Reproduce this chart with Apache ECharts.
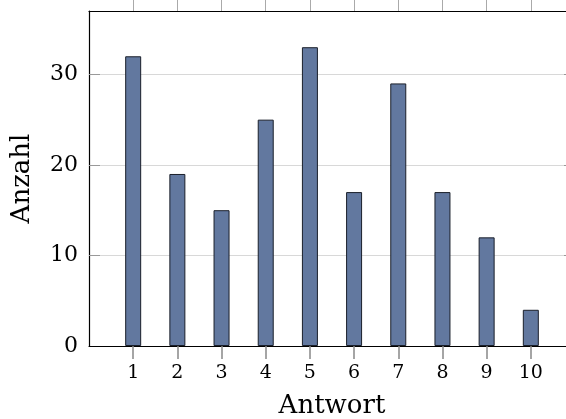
<!DOCTYPE html>
<html>
<head>
<meta charset="utf-8">
<script src="https://cdn.jsdelivr.net/npm/echarts@6/dist/echarts.min.js"></script>
<style>html,body{margin:0;padding:0;background:#fff}#c{width:566px;height:419px}</style>
</head>
<body>
<div id="c"></div>
<script>
const categories = [1, 2, 3, 4, 5, 6, 7, 8, 9, 10];
const counts = [32, 19, 15, 25, 33, 17, 29, 17, 12, 4];
const yTicks = [0, 10, 20, 30];
const yInnerTicks = [10, 20, 30];

const FONT = 'DejaVu Serif';
const chart = echarts.init(document.getElementById('c'), null, {renderer: 'canvas'});
chart.setOption({
  animation: false,
  backgroundColor: '#fff',
  grid: {left: 89, right: -9, top: 11, bottom: 73, containLabel: false, outerBoundsMode: 'none'},
  xAxis: [{
    type: 'value', min: 0, max: 11, interval: 1, position: 'bottom', z: 5,
    name: 'Antwort', nameLocation: 'middle', nameGap: 47,
    nameTextStyle: {fontFamily: FONT, fontSize: 26, color: '#000'},
    axisLine: {show: true, onZero: false, lineStyle: {color: '#000', width: 1.2}},
    axisTick: {show: true, inside: false, length: 13, lineStyle: {color: '#888', width: 1.5}},
    axisLabel: {
      fontFamily: FONT, fontSize: 19, color: '#000', margin: 18,
      showMinLabel: false, showMaxLabel: false,
      formatter: v => (categories.indexOf(v) >= 0 ? String(v) : '')
    },
    splitLine: {show: false}
  }, {
    type: 'value', min: 0, max: 11, interval: 1, position: 'top', z: 5,
    axisLine: {show: true, onZero: false, lineStyle: {color: '#000', width: 1.2}},
    axisTick: {show: true, inside: false, length: 11, customValues: categories, lineStyle: {color: '#aaa'}},
    axisLabel: {show: false},
    splitLine: {show: false}
  }],
  yAxis: [{
    type: 'value', min: 0, max: 37, interval: 10, position: 'left',
    name: 'Anzahl', nameLocation: 'middle', nameGap: 54, nameRotate: 90,
    nameTextStyle: {fontFamily: FONT, fontSize: 26, color: '#000'},
    axisLine: {show: true, onZero: false, lineStyle: {color: '#000', width: 1.2}},
    axisTick: {show: true, inside: true, length: 11, lineStyle: {color: '#999'}},
    axisLabel: {
      fontFamily: FONT, fontSize: 22, color: '#000', margin: 11, showMaxLabel: false,
      formatter: v => (yTicks.indexOf(v) >= 0 ? String(v) : '')
    },
    splitLine: {show: true, lineStyle: {color: '#d8d8d8'}}
  }, {
    type: 'value', min: 0, max: 37, interval: 10, position: 'right',
    axisLine: {show: false, onZero: false},
    axisTick: {show: true, inside: true, length: 11, customValues: yInnerTicks, lineStyle: {color: '#999'}},
    axisLabel: {show: false},
    splitLine: {show: false}
  }],
  series: [{
    type: 'bar',
    xAxisIndex: 0, yAxisIndex: 0,
    barWidth: 16,
    data: categories.map((c, i) => [c, counts[i]]),
    itemStyle: {color: '#62789f', borderColor: '#1a1f2a', borderWidth: 1}
  }]
});
</script>
</body>
</html>
